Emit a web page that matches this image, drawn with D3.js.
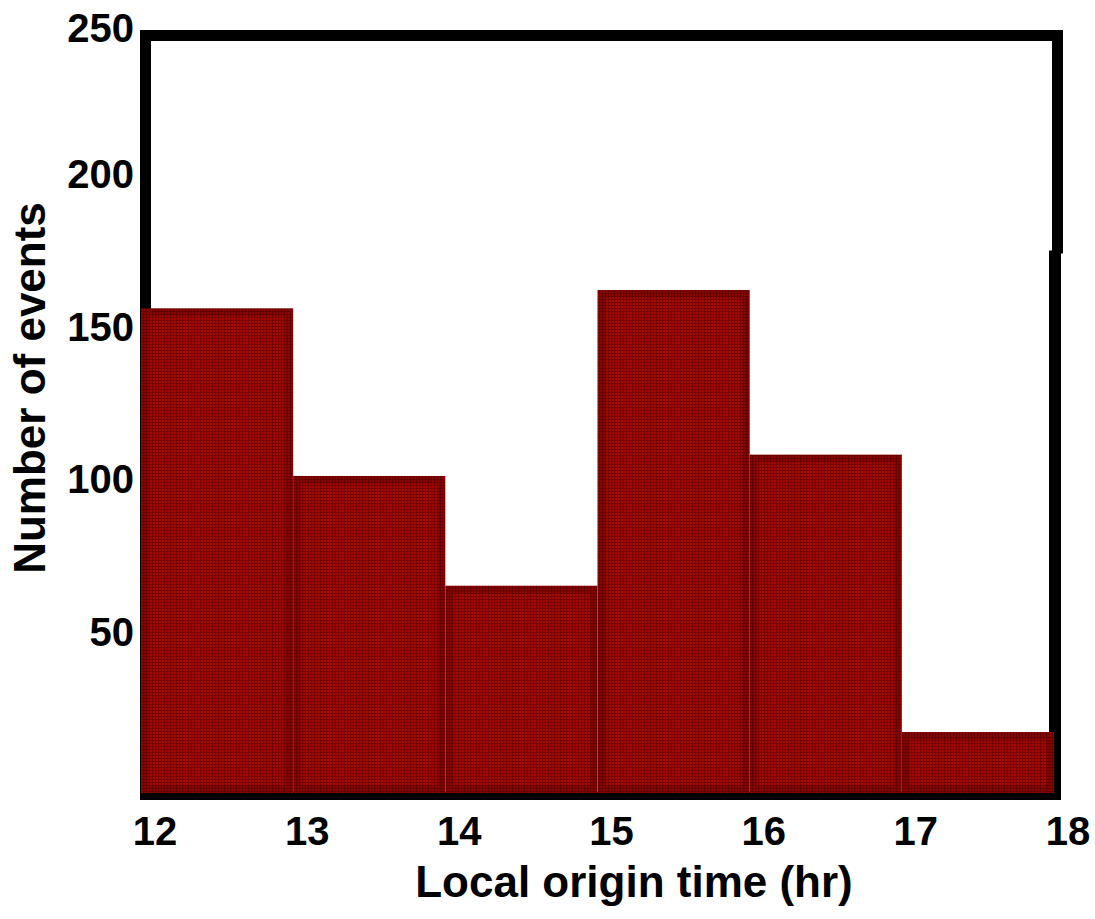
<!DOCTYPE html>
<html>
<head>
<meta charset="utf-8">
<script src="https://cdn.jsdelivr.net/npm/d3@7/dist/d3.min.js"></script>
<style>
  body { margin: 0; background: #fff; }
  text { font-family: "Liberation Sans", Arial, Helvetica, sans-serif; font-weight: bold; fill: #000; }
</style>
</head>
<body>
<svg width="1095" height="919"></svg>
<script>
// histogram bins (start hour) and counts
var binStarts = [12, 13, 14, 15, 16, 17];
var counts = [160, 105, 69, 166, 112, 21];
var xTicks = [12, 13, 14, 15, 16, 17, 18];
var yTicks = [50, 100, 150, 200, 250];

var svg = d3.select('svg');

var x = d3.scaleLinear().domain([12, 18]).range([141, 1054]);
var y = d3.scaleLinear().domain([0, 250]).range([796, 34]);

// dotted red texture of the bars
var defs = svg.append('defs');
var pat = defs.append('pattern')
  .attr('id', 'dots')
  .attr('patternUnits', 'userSpaceOnUse')
  .attr('width', 3)
  .attr('height', 3);
pat.append('rect').attr('width', 3).attr('height', 3).attr('fill', '#780000');
pat.append('rect').attr('width', 2).attr('height', 2).attr('fill', '#a30a00');

// frame (drawn first, bars sit over it)
var frame = svg.append('g').attr('stroke', '#000').attr('fill', 'none');
frame.append('line')
  .attr('x1', x(12) - 1).attr('x2', x(18) + 9)
  .attr('y1', y(250) + 1.5).attr('y2', y(250) + 1.5)
  .attr('stroke-width', 11);
frame.append('line')
  .attr('x1', x(12) + 4.5).attr('x2', x(12) + 4.5)
  .attr('y1', y(250) - 4).attr('y2', y(0) + 4)
  .attr('stroke-width', 11);
frame.append('line')
  .attr('x1', x(18) + 3.5).attr('x2', x(18) + 3.5)
  .attr('y1', y(250) - 4).attr('y2', y(178))
  .attr('stroke-width', 11);
frame.append('line')
  .attr('x1', x(18) + 1).attr('x2', x(18) + 1)
  .attr('y1', y(179)).attr('y2', y(0) + 4)
  .attr('stroke-width', 12);
frame.append('line')
  .attr('x1', x(12) - 1).attr('x2', x(18) + 7)
  .attr('y1', y(0)).attr('y2', y(0))
  .attr('stroke-width', 8);

// bars
var bars = svg.append('g');
bars.selectAll('rect.bar')
  .data(binStarts)
  .enter()
  .append('rect')
  .attr('class', 'bar')
  .attr('x', function (d) { return x(d); })
  .attr('y', function (d, i) { return y(counts[i]); })
  .attr('width', function (d) { return x(d + 1) - x(d); })
  .attr('height', function (d, i) { return y(0) - 3 - y(counts[i]); })
  .attr('fill', 'url(#dots)');

// darker inner band along bar edges
bars.selectAll('rect.edge')
  .data(binStarts)
  .enter()
  .append('rect')
  .attr('class', 'edge')
  .attr('x', function (d) { return x(d) + 4; })
  .attr('y', function (d, i) { return y(counts[i]) + 4; })
  .attr('width', function (d) { return x(d + 1) - x(d) - 8; })
  .attr('height', function (d, i) { return y(0) - 3 - y(counts[i]) - 8; })
  .attr('fill', 'none')
  .attr('stroke', 'rgba(50,0,0,0.25)')
  .attr('stroke-width', 7);

// y tick labels
svg.append('g').selectAll('text')
  .data(yTicks)
  .enter()
  .append('text')
  .attr('x', 134)
  .attr('y', function (d) { return Math.max(y(d) + 2, 42); })
  .attr('text-anchor', 'end')
  .attr('font-size', 40)
  .text(function (d) { return d; });

// x tick labels
svg.append('g').selectAll('text')
  .data(xTicks)
  .enter()
  .append('text')
  .attr('x', function (d) { return x(d) + 14; })
  .attr('y', 845)
  .attr('text-anchor', 'middle')
  .attr('font-size', 40)
  .text(function (d) { return d; });

// axis titles
svg.append('text')
  .attr('x', 634)
  .attr('y', 897)
  .attr('text-anchor', 'middle')
  .attr('font-size', 44)
  .text('Local origin time (hr)');

svg.append('text')
  .attr('transform', 'translate(45,388) rotate(-90)')
  .attr('text-anchor', 'middle')
  .attr('font-size', 44)
  .text('Number of events');
</script>
</body>
</html>
